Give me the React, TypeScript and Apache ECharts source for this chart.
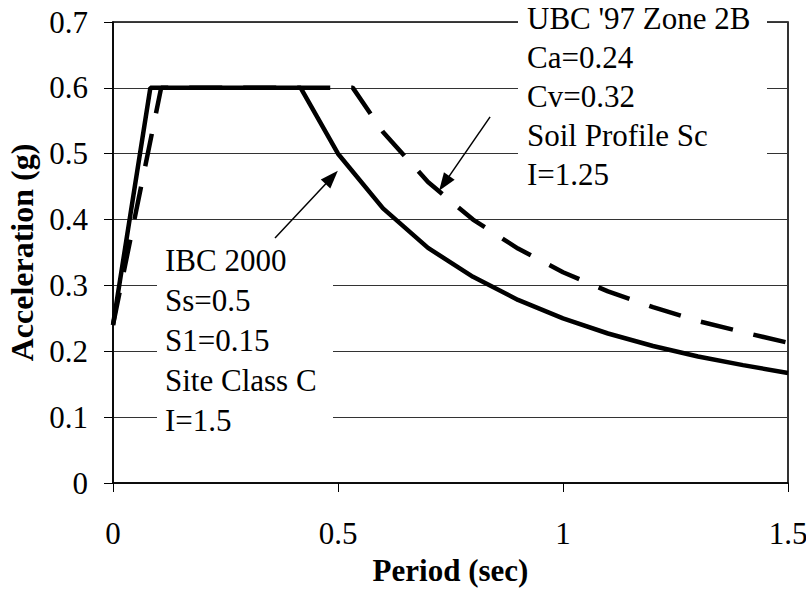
import React, { useEffect, useRef } from "react";
import * as echarts from "echarts";

// IBC 2000 design spectrum (solid)
const periodsIBC = [0, 0.083, 0.417, 0.5, 0.6, 0.7, 0.8, 0.9, 1.0, 1.1, 1.2, 1.3, 1.4, 1.5];
const accelIBC = [0.24, 0.6, 0.6, 0.5, 0.417, 0.357, 0.313, 0.278, 0.25, 0.227, 0.208, 0.192, 0.179, 0.167];

// UBC '97 design spectrum (dashed)
const periodsUBC = [0, 0.107, 0.533, 0.6, 0.7, 0.8, 0.9, 1.0, 1.1, 1.2, 1.3, 1.4, 1.5];
const accelUBC = [0.24, 0.6, 0.6, 0.533, 0.457, 0.4, 0.356, 0.32, 0.291, 0.267, 0.246, 0.229, 0.213];

// annotation arrows [tailT, tailA, tipT, tipA]
const arrowIBC = [0.36, 0.372, 0.486, 0.464];
const arrowUBC = [0.838, 0.556, 0.736, 0.455];

const labelIBC = ["IBC 2000", "Ss=0.5", "S1=0.15", "Site Class C", "I=1.5"];
const labelUBC = ["UBC '97 Zone 2B", "Ca=0.24", "Cv=0.32", "Soil Profile Sc", "I=1.25"];

const xTitle = "Period (sec)";
const yTitle = "Acceleration (g)";

const SERIF = "'Liberation Serif', 'Times New Roman', serif";

export default function App() {
  const ref = useRef<HTMLDivElement>(null);
  useEffect(() => {
    if (!ref.current) return;
    const chart = echarts.init(ref.current, null, { renderer: "svg" });
    const zip = (xs: number[], ys: number[]) => xs.map((x, i) => [x, ys[i]]);
    const arrowData = (a: number[]) => [
      { coord: [a[0], a[1]], symbol: "none" },
      { coord: [a[2], a[3]], symbol: "triangle", symbolSize: [13, 18] },
    ];
    chart.setOption({
      animation: false,
      backgroundColor: "#fff",
      grid: {
        left: 113,
        right: 18,
        top: 22,
        bottom: 120,
        show: true,
        borderColor: "#000",
        borderWidth: 1.6,
        outerBoundsMode: "none",
      },
      xAxis: {
        type: "value",
        min: 0,
        max: 1.5,
        interval: 0.5,
        name: xTitle,
        nameLocation: "middle",
        nameGap: 72,
        nameTextStyle: { fontFamily: SERIF, fontSize: 31, fontWeight: "bold", color: "#000" },
        axisLine: { lineStyle: { color: "#000", width: 1.5 } },
        axisTick: { show: true, length: 9, lineStyle: { color: "#000", width: 1 } },
        axisLabel: { fontFamily: SERIF, fontSize: 31, color: "#000", margin: 35 },
        splitLine: { show: false },
      },
      yAxis: {
        type: "value",
        min: 0,
        max: 0.7,
        interval: 0.1,
        name: yTitle,
        nameLocation: "middle",
        nameGap: 74,
        nameTextStyle: { fontFamily: SERIF, fontSize: 32, fontWeight: "bold", color: "#000" },
        axisLine: { show: true, lineStyle: { color: "#000", width: 1.5 } },
        axisTick: { show: true, length: 9, lineStyle: { color: "#000", width: 1 } },
        axisLabel: { fontFamily: SERIF, fontSize: 31, color: "#000", margin: 25 },
        splitLine: { show: true, lineStyle: { color: "#333", width: 1 } },
      },
      series: [
        {
          type: "line",
          data: zip(periodsIBC, accelIBC),
          showSymbol: false,
          symbol: "none",
          z: 3,
          lineStyle: { color: "#000", width: 4.5, type: "solid" },
          silent: true,
          markLine: {
            silent: true,
            animation: false,
            label: { show: false },
            lineStyle: { color: "#000", width: 1.5, type: "solid" },
            data: [arrowData(arrowIBC), arrowData(arrowUBC)],
          },
        },
        {
          type: "line",
          data: zip(periodsUBC, accelUBC),
          showSymbol: false,
          symbol: "none",
          z: 3,
          lineStyle: { color: "#000", width: 4.5, type: [33, 21] },
          silent: true,
        },
      ],
      graphic: [
        {
          type: "rect",
          z: 1,
          silent: true,
          shape: { x: 157, y: 240, width: 176, height: 200 },
          style: { fill: "#fff" },
        },
        {
          type: "rect",
          z: 1,
          silent: true,
          shape: { x: 518, y: 0, width: 249, height: 196 },
          style: { fill: "#fff" },
        },
        {
          type: "text",
          z: 5,
          silent: true,
          x: 165,
          y: 240,
          style: {
            text: labelIBC.join("\n"),
            font: `31px ${SERIF}`,
            fill: "#000",
            lineHeight: 40,
            verticalAlign: "top",
            align: "left",
          },
        },
        {
          type: "text",
          z: 5,
          silent: true,
          x: 527,
          y: -1.5,
          style: {
            text: labelUBC.join("\n"),
            font: `31px ${SERIF}`,
            fill: "#000",
            lineHeight: 39,
            verticalAlign: "top",
            align: "left",
          },
        },
      ],
    });
    return () => chart.dispose();
  }, []);
  return (
    <div
      ref={ref}
      style={{ position: "absolute", left: 0, top: 0, width: 806, height: 603 }}
    />
  );
}
